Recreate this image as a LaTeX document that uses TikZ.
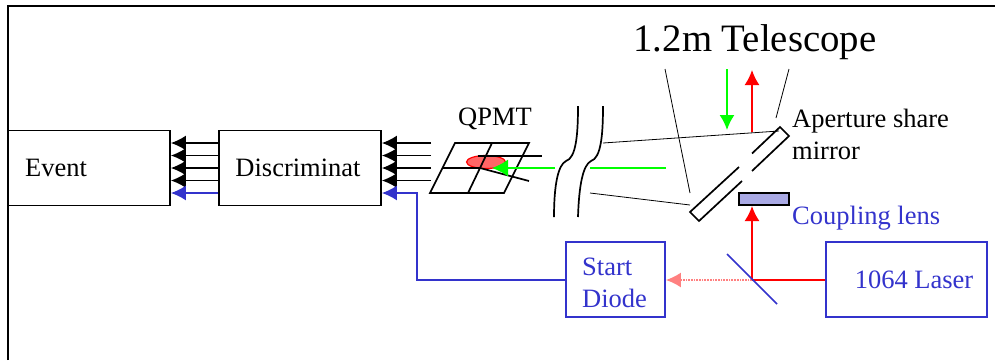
\documentclass[tikz,border=0pt]{standalone}
\usepackage{fontspec}
\setmainfont{Liberation Serif}
\usepackage{xcolor}
\usetikzlibrary{arrows.meta,calc,positioning,shapes.geometric}
\definecolor{beamgreen}{RGB}{0,255,0}
\definecolor{labelblue}{RGB}{51,51,204}
\definecolor{lensblue}{RGB}{170,170,229}
\begin{document}
\begin{tikzpicture}[x=1pt,y=-1pt]

\tikzset{box/.style={
  rectangle,
  inner sep=0pt,
  draw=black, line width=1.8pt,
  fill=white,
  minimum width=162pt,
  minimum height=75pt
  }}
\tikzset{bluebox/.style={
  box, draw=labelblue, text=labelblue
  }}
\tikzset{txt/.style={
  inner sep=0pt, font=\fontsize{26.5}{32}\selectfont, align=left
  }}
\tikzset{bigtip/.style={
  -{Latex[length=15pt,width=15pt]}
  }}
\tikzset{thin line/.style={line width=0.8pt}}
\tikzset{wire/.style={line width=1.7pt}}

\useasboundingbox (0,0) rectangle (995,360);

% frame
\coordinate (fa) at (8,360);
\coordinate (fb) at (8,6);
\coordinate (fc) at (995,6);
\path[draw,line width=1.6pt] (fa) -- (fb) -- (fc);

\node[box] (Event) at (89,168) {};
\node[txt,anchor=west] (EventT) at (25,168) {Event};
\node[box] (Disc) at (300,168) {};
\node[txt,anchor=center] (DiscT) at (298,168) {Discriminat};
\node[bluebox,minimum width=99pt] (Start) at (615.5,279.5) {};
\node[txt,anchor=west,text=labelblue] (StartT) at (582,283) {Start\\Diode};
\node[bluebox,minimum width=161pt] (Laser) at (906.5,279.5) {};
\node[txt,anchor=center,text=labelblue] (LaserT) at (914,280) {1064 Laser};

\node[txt] (QPMT) at (495,119) {QPMT};
\node[txt,font=\fontsize{38.8}{44}\selectfont] (Tele) at (755,42) {1.2m Telescope};
\node[txt,anchor=west] (Ap) at (792,134) {Aperture share\\mirror};
\node[txt,anchor=west,text=labelblue] (Coup) at (792,218) {Coupling lens};

% outputs of the quadrants
\foreach \i/\y in {1/143,2/155.5,3/168,4/180.5}{
  \coordinate (in\i) at (431,\y);
  \path[draw,wire,bigtip] (in\i) -- (Disc.east |- in\i);
  \path[draw,wire,bigtip] (Disc.west |- in\i) -- (Event.east |- in\i);
}
\coordinate (sy) at (417,193);
\coordinate (sc) at (417,280);
\path[draw,wire,labelblue,bigtip] (Start.west |- sc) -- (sc) -- (sy) -- (Disc.east |- sy);
\path[draw,wire,labelblue,bigtip] (Disc.west |- sy) -- (Event.east |- sy);

% QPMT
\node[ellipse,draw=red,line width=1.2pt,fill=red!60,minimum width=39pt,minimum height=13pt,inner sep=0pt] (spot) at (486,162) {};
\coordinate (qa) at (455,143);
\coordinate (qb) at (529,143);
\coordinate (qc) at (504,193);
\coordinate (qd) at (430,193);
\path[draw,wire] (qa) -- (qb) -- (qc) -- (qd) -- cycle;
\path[draw,wire] (492,143) -- (468,193);
\path[draw,wire] (443,168) -- (480,168) -- (529,181);
\path[draw,wire] (478,156) -- (542,156);
\coordinate (ga) at (555,168);
\coordinate (gb) at (492,168);
\path[draw,beamgreen,wire,-{Latex[length=16pt,width=17pt]}] (ga) -- (gb);
\coordinate (gc) at (590,168);
\coordinate (gd) at (666,168);
\path[draw,beamgreen,wire] (gc) -- (gd);

% break in the path
\path[draw,wire] (578,106) .. controls (578,135) and (576,158) .. (566,161) .. controls (558,165) and (554,185) .. (554,217);
\path[draw,wire] (603,106) .. controls (603,135) and (601,158) .. (591,161) .. controls (583,165) and (579,185) .. (578,217);

% telescope rays
\path[draw,thin line] (603,143) -- (779,131);
\path[draw,thin line] (590,193) -- (690,205);
\path[draw,thin line] (665,69) -- (690,193);
\path[draw,thin line] (789,69) -- (776,118);

% mirror
\path[draw,wire] (752,153.5) -- (780,127) -- (789,136) -- (752,171);
\path[draw,wire] (739,167) -- (690,212) -- (699,221) -- (742,181);

\node[rectangle,draw=black,wire,fill=lensblue,minimum width=50pt,minimum height=12pt,inner sep=0pt] (Lens) at (764,199) {};

% beams
\coordinate (bt) at (752,70);
\coordinate (bb) at (752,132);
\coordinate (bs) at (752,280);
\coordinate (bl) at (752,206);
\path[draw,red,wire,bigtip] (bb) -- (bt);
\path[draw,red,wire] (Laser.west |- bs) -- (bs);
\path[draw,red,wire,bigtip] (bs) -- (bl);
\path[draw,beamgreen,wire,bigtip] (727,69) -- (727,130);
\path[draw,red!50,wire,densely dotted,bigtip] (bs) -- (Start.east |- bs);

\coordinate (sa) at (727,254);
\coordinate (sb) at (777,304);
\path[draw,labelblue,wire] (sa) -- (sb);

\end{tikzpicture}
\end{document}
